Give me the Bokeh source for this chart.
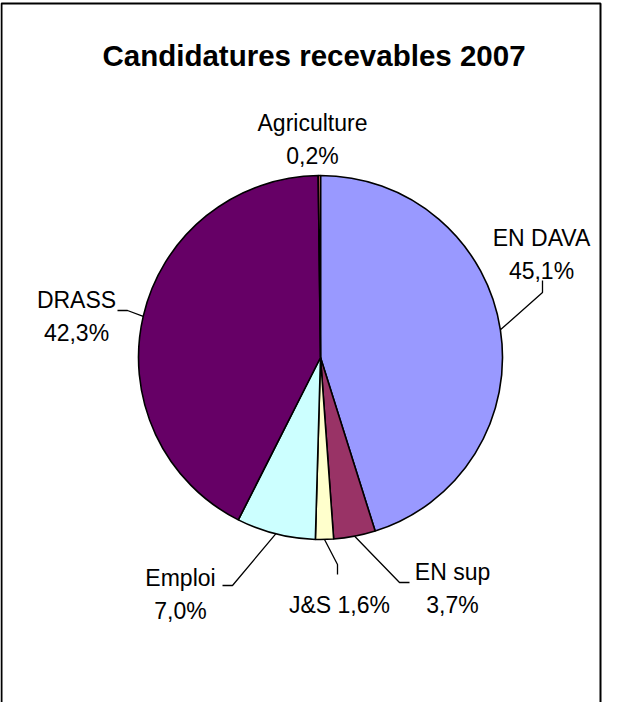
import math
from bokeh.plotting import figure
from bokeh.models import Range1d
from bokeh.core.properties import value
from bokeh.embed import file_html
from bokeh.resources import INLINE

# ---- data ----
categories = ["EN DAVA", "EN sup", "J&S", "Emploi", "DRASS", "Agriculture"]
percents = [45.1, 3.7, 1.6, 7.0, 42.3, 0.2]
colors = ["#9999FF", "#993366", "#FFFFCC", "#CCFFFF", "#660066", "#FF8080"]
title_text = "Candidatures recevables 2007"

# ---- layout (pixel units, pie centre at origin) ----
W, H = 616, 702
R = 182
FONT = "Liberation Sans"

p = figure(width=W, height=H, output_backend="svg", toolbar_location=None,
           x_range=Range1d(-320, 296), y_range=Range1d(-345, 357),
           min_border=0)
p.axis.visible = False
p.grid.visible = False
p.outline_line_color = None
p.background_fill_color = "white"
p.border_fill_color = "white"

# chart border (bottom edge lies below the window)
p.quad(left=[-319], right=[280], top=[354], bottom=[-400],
       fill_color=None, line_color="black", line_width=2)

total = sum(percents)
cum = 0.0
starts, ends, mids = [], [], []
for v in percents:
    a0 = math.pi / 2 - 2 * math.pi * cum / total
    cum += v
    a1 = math.pi / 2 - 2 * math.pi * cum / total
    starts.append(a0)
    ends.append(a1)
    mids.append((a0 + a1) / 2)

p.wedge(x=0, y=0, radius=R, start_angle=starts, end_angle=ends,
        direction="clock", fill_color=colors, line_color="black", line_width=1.6)

def fmt(v):
    return ("%.1f" % v).replace(".", ",") + "%"

# label placement: (x, [baselines], two_lines?)
label_layout = {
    "EN DAVA": (221, [120, 87], True),
    "EN sup": (132, [-214, -247], True),
    "J&S": (19, [-247], False),
    "Emploi": (-140, [-220, -253], True),
    "DRASS": (-244, [58, 25], True),
    "Agriculture": (-8, [235, 202], True),
}
# leader line elbow/end points
leaders = {
    "EN DAVA": [(222, 65), (222, 77)],
    "EN sup": [(79, -225), (89, -225)],
    "J&S": [(17, -207), (17, -217)],
    "Emploi": [(-88, -228), (-98, -228)],
    "DRASS": [(-193, 47), (-203, 47)],
}

tx, ty, tt = [], [], []
for cat, v, m in zip(categories, percents, mids):
    x, ys, two = label_layout[cat]
    if two:
        tx += [x, x]
        ty += ys
        tt += [cat, fmt(v)]
    else:
        tx.append(x)
        ty.append(ys[0])
        tt.append(cat + " " + fmt(v))
    if cat in leaders:
        xs = [R * math.cos(m)] + [pt[0] for pt in leaders[cat]]
        ys_ = [R * math.sin(m)] + [pt[1] for pt in leaders[cat]]
        p.line(xs, ys_, line_color="black", line_width=1.3)

p.text(x=tx, y=ty, text=tt, text_font=value(FONT), text_font_size="23px",
       text_align="center", text_baseline="alphabetic", text_color="black")

p.text(x=[-6.5], y=[302], text=[title_text], text_font=value(FONT),
       text_font_size="29.5px", text_font_style="bold", text_align="center",
       text_baseline="alphabetic", text_color="black")

open("out.html", "w").write(file_html(p, INLINE))
